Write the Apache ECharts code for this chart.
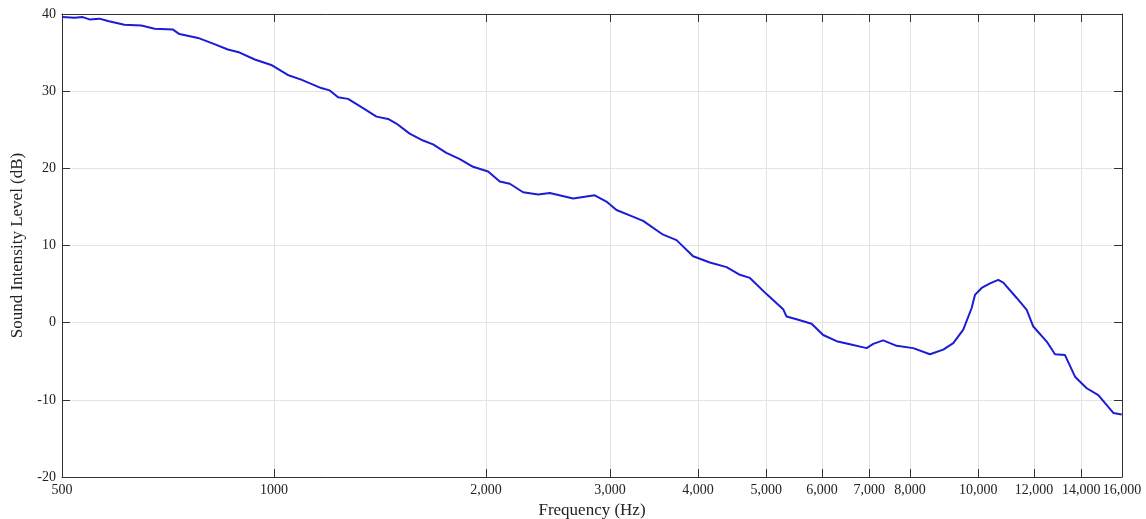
<!DOCTYPE html>
<html>
<head>
<meta charset="utf-8">
<script src="https://cdn.jsdelivr.net/npm/echarts@6/dist/echarts.min.js"></script>
<style>
html,body{margin:0;padding:0;background:#fff;}
#chart{width:1146px;height:519px;}
</style>
</head>
<body>
<div id="chart"></div>
<script>
// Frequency (Hz) and Sound Intensity Level (dB)
var frequencies = [500, 521, 535, 547, 565, 581, 613, 648, 677, 718, 734, 780, 823, 860, 894, 939, 991, 1046, 1093, 1167, 1200, 1233, 1274, 1338, 1398, 1452, 1492, 1558, 1628, 1682, 1757, 1836, 1917, 2014, 2092, 2162, 2258, 2372, 2464, 2659, 2854, 2965, 3064, 3200, 3343, 3569, 3729, 3937, 4158, 4392, 4587, 4740, 5005, 5284, 5343, 5521, 5799, 6023, 6293, 6573, 6943, 7094, 7330, 7658, 8085, 8539, 8919, 9216, 9522, 9787, 9893, 10113, 10391, 10677, 10853, 11340, 11717, 11972, 12509, 12852, 13280, 13722, 14257, 14808, 15553, 15986];
var levels = [39.6, 39.5, 39.6, 39.3, 39.4, 39.1, 38.6, 38.5, 38.1, 38.0, 37.4, 36.9, 36.1, 35.4, 35.0, 34.1, 33.4, 32.1, 31.5, 30.4, 30.1, 29.2, 29.0, 27.8, 26.7, 26.4, 25.8, 24.5, 23.6, 23.1, 22.0, 21.2, 20.2, 19.6, 18.3, 18.0, 16.9, 16.6, 16.8, 16.1, 16.5, 15.7, 14.6, 13.9, 13.2, 11.4, 10.7, 8.6, 7.8, 7.2, 6.2, 5.8, 3.7, 1.75, 0.8, 0.45, -0.15, -1.6, -2.4, -2.8, -3.3, -2.75, -2.3, -3.0, -3.3, -4.1, -3.5, -2.65, -0.9, 1.9, 3.6, 4.5, 5.1, 5.55, 5.2, 3.2, 1.66, -0.5, -2.45, -4.1, -4.2, -7.0, -8.5, -9.4, -11.7, -11.9];
var xTicks = [500, 1000, 2000, 3000, 4000, 5000, 6000, 7000, 8000, 10000, 12000, 14000, 16000];
var yMin = -20, yMax = 40, yStep = 10;

var seriesData = frequencies.map(function (f, i) { return [f, levels[i]]; });

function fmtFreq(v) {
  var n = Math.round(v);
  if (n <= 1000) return String(n);
  return String(n).replace(/\B(?=(\d{3})+(?!\d))/g, ',');
}

var font = '"Liberation Serif", "Times New Roman", serif';
var axisLine = { show: true, onZero: false, lineStyle: { color: '#333', width: 1 } };
var gridLine = { show: true, lineStyle: { color: '#e3e3e3', width: 1 } };

var chart = echarts.init(document.getElementById('chart'), null, { renderer: 'canvas' });
chart.setOption({
  animation: false,
  backgroundColor: '#fff',
  grid: { left: 62, right: 24, top: 14, bottom: 42, containLabel: false, outerBoundsMode: 'none' },
  xAxis: [{
    type: 'log', logBase: 10, min: 500, max: 16000,
    position: 'bottom',
    name: 'Frequency (Hz)', nameLocation: 'middle', nameGap: 25,
    nameTextStyle: { fontFamily: font, fontSize: 17, color: '#222' },
    axisLine: axisLine,
    axisTick: { show: true, inside: true, length: 8, customValues: xTicks, lineStyle: { color: '#333' } },
    axisLabel: { show: true, customValues: xTicks, formatter: fmtFreq, fontFamily: font, fontSize: 14, color: '#222', margin: 6, showMinLabel: true, showMaxLabel: true },
    splitLine: gridLine
  }, {
    type: 'log', logBase: 10, min: 500, max: 16000,
    position: 'top',
    axisLine: axisLine,
    axisTick: { show: true, inside: true, length: 8, customValues: xTicks, lineStyle: { color: '#333' } },
    axisLabel: { show: false, customValues: xTicks },
    splitLine: { show: false }
  }],
  yAxis: [{
    type: 'value', min: yMin, max: yMax, interval: yStep,
    position: 'left',
    name: 'Sound Intensity Level (dB)', nameLocation: 'middle', nameGap: 34,
    nameTextStyle: { fontFamily: font, fontSize: 17, color: '#222' },
    axisLine: axisLine,
    axisTick: { show: true, inside: true, length: 8, lineStyle: { color: '#333' } },
    axisLabel: { fontFamily: font, fontSize: 14, color: '#222', margin: 6 },
    splitLine: gridLine
  }, {
    type: 'value', min: yMin, max: yMax, interval: yStep,
    position: 'right',
    axisLine: axisLine,
    axisTick: { show: true, inside: true, length: 8, lineStyle: { color: '#333' } },
    axisLabel: { show: false },
    splitLine: { show: false }
  }],
  series: [{
    type: 'line',
    xAxisIndex: 0, yAxisIndex: 0,
    data: seriesData,
    showSymbol: false,
    smooth: false,
    lineStyle: { color: '#1c1cd6', width: 2 },
    itemStyle: { color: '#1c1cd6' }
  }]
});
</script>
</body>
</html>
